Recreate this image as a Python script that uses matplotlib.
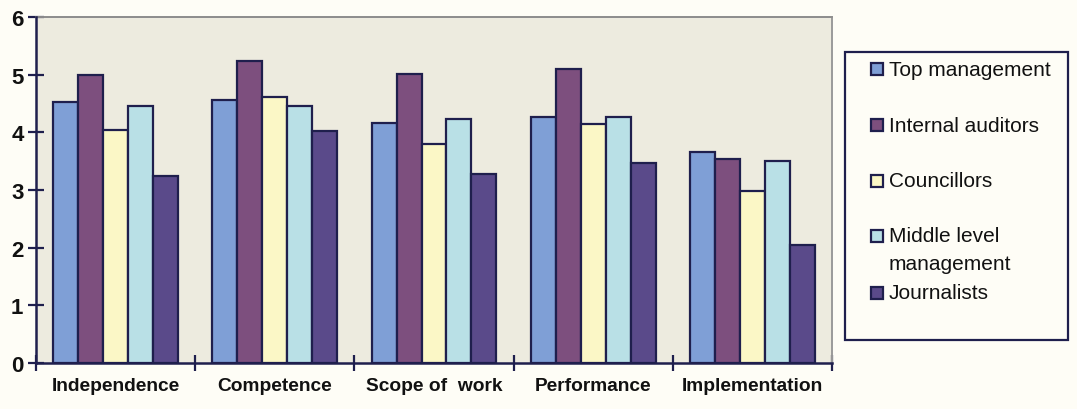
import matplotlib
matplotlib.use("Agg")
import matplotlib.pyplot as plt
from matplotlib.patches import Rectangle
import numpy as np

plt.rcParams['font.family'] = ['Liberation Sans', 'DejaVu Sans']

categories = ["Independence", "Competence", "Scope of  work", "Performance", "Implementation"]
groups = ["Top management", "Internal auditors", "Councillors",
          "Middle level\nmanagement", "Journalists"]

top_management = [4.52, 4.56, 4.16, 4.27, 3.66]
internal_auditors = [5.00, 5.24, 5.02, 5.10, 3.53]
councillors = [4.04, 4.61, 3.79, 4.15, 2.98]
middle_management = [4.46, 4.46, 4.23, 4.26, 3.50]
journalists = [3.24, 4.03, 3.27, 3.46, 2.05]

series = [top_management, internal_auditors, councillors, middle_management, journalists]
colors = ["#7f9fd6", "#7d4f7e", "#fbf7c6", "#b9e0e6", "#5a4a8a"]
edge = "#1f1f4d"
ink = "#111111"

W, H = 1077, 410
fig = plt.figure(figsize=(W / 100, H / 100), dpi=100, facecolor="#fefdf6")
ax = fig.add_axes([36 / W, 46 / H, (832 - 36) / W, (364 - 18) / H])
ax.set_facecolor("#edebdf")

x = np.arange(len(categories))
w = 0.157
bars = []
for i, (vals, col) in enumerate(zip(series, colors)):
    b = ax.bar(x + (i - 2) * w, vals, width=w, color=col, edgecolor=edge,
               linewidth=1.6, zorder=3)
    bars.append(b)

ax.set_xlim(-0.5, len(categories) - 0.5)
ax.set_ylim(0, 6)
ax.set_yticks(range(7))
ax.set_yticklabels([str(v) for v in range(7)], fontsize=16, fontweight="bold", color=ink)
ax.set_xticks(x)
ax.set_xticklabels(categories, fontsize=13.8, fontweight="bold", color=ink)
ax.tick_params(axis="x", which="major", length=0, pad=10)
ax.set_xticks(np.arange(-0.5, len(categories)), minor=True)
ax.tick_params(axis="x", which="minor", length=12, width=1.6, direction="inout", color=edge)
ax.tick_params(axis="y", length=12, width=1.6, direction="inout", color=edge, pad=3)

for s in ("left", "bottom"):
    ax.spines[s].set_color(edge)
    ax.spines[s].set_linewidth(1.8)
    ax.spines[s].set_zorder(4)
ax.spines["top"].set_color("#8c8c8c")
ax.spines["top"].set_linewidth(1.4)
ax.spines["right"].set_color("#9a9a9a")
ax.spines["right"].set_linewidth(1.4)
ax.spines["right"].set_linestyle((0, (1, 1)))

# legend box, laid out in figure pixels
fig.patches.append(Rectangle((845 / W, 1 - 341 / H), (1068 - 845) / W, (341 - 53) / H,
                             transform=fig.transFigure, facecolor="none",
                             edgecolor=edge, linewidth=1.6))
entry_y = [70, 126, 182, 237, 294]
for b, label, yy in zip(bars, groups, entry_y):
    patch = b.patches[0]
    fig.patches.append(Rectangle((871 / W, 1 - (yy + 6) / H), 12 / W, 12 / H,
                                 transform=fig.transFigure,
                                 facecolor=patch.get_facecolor(),
                                 edgecolor=edge, linewidth=1.6))
    for k, line in enumerate(label.split("\n")):
        fig.text(889 / W, 1 - (yy + 27 * k) / H, line, fontsize=15, color=ink,
                 va="center", ha="left")

fig.savefig("out.png", dpi=100, facecolor=fig.get_facecolor())
